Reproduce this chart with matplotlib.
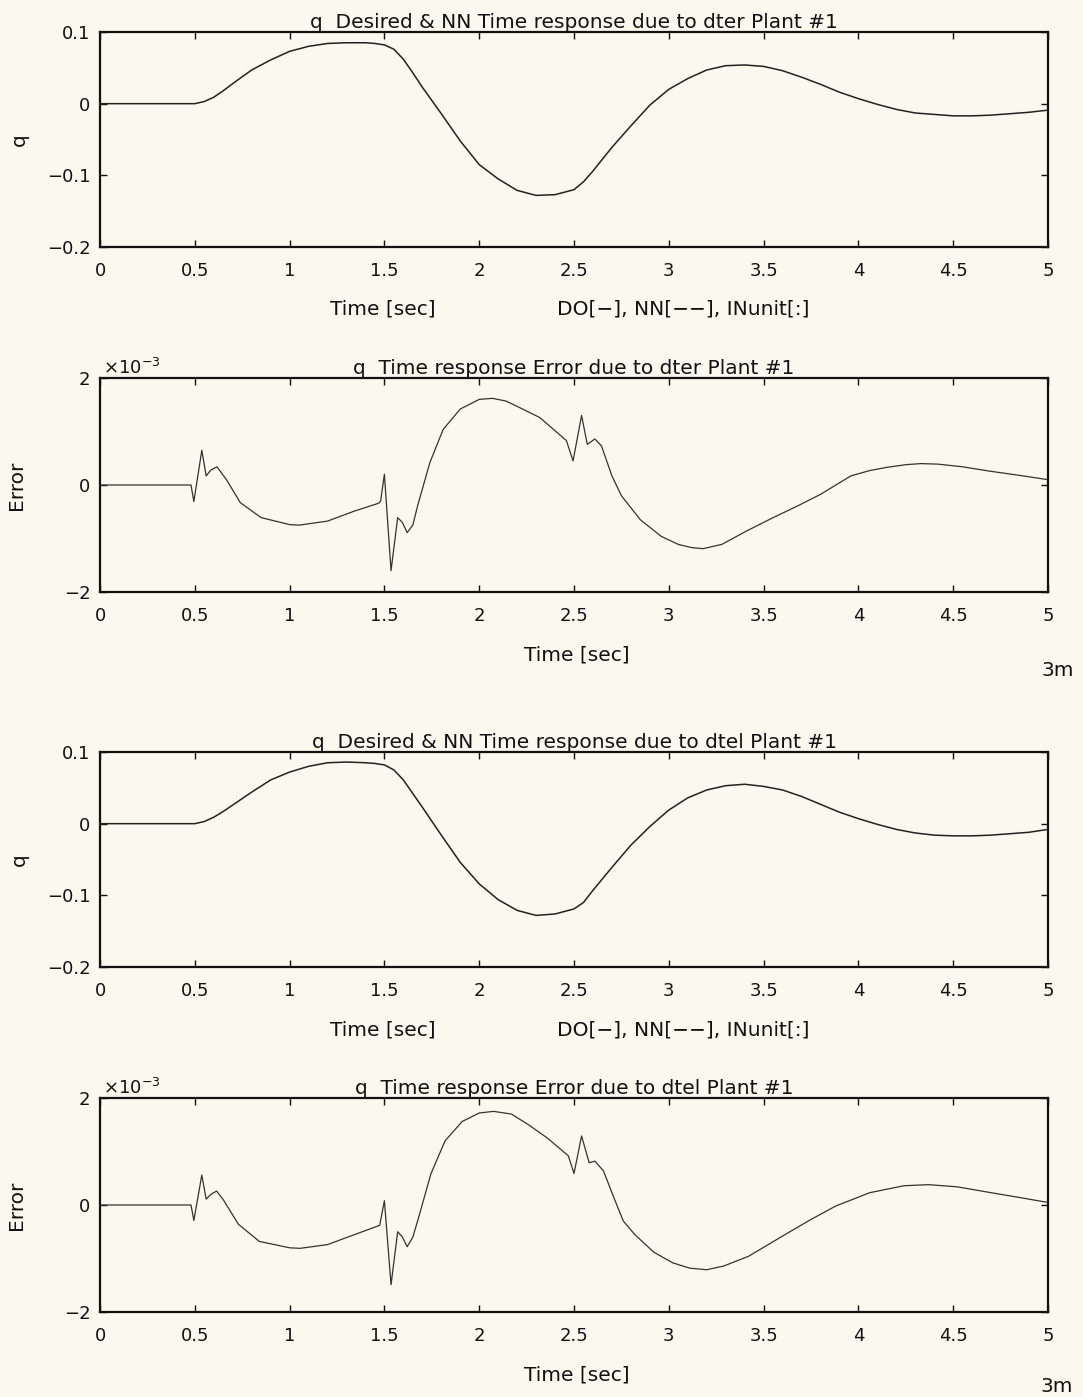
import matplotlib
matplotlib.use("Agg")
import matplotlib.pyplot as plt

# ---------------- data ----------------
t_q = [0, 0.5, 0.55, 0.6, 0.65, 0.7, 0.8, 0.9, 1.0, 1.1, 1.2, 1.3, 1.4, 1.45, 1.5, 1.55, 1.6,
       1.65, 1.7, 1.8, 1.9, 2.0, 2.1, 2.2, 2.3, 2.4, 2.5, 2.55, 2.6, 2.7, 2.8, 2.9, 3.0,
       3.1, 3.2, 3.3, 3.4, 3.5, 3.6, 3.7, 3.8, 3.9, 4.0, 4.1, 4.2, 4.3, 4.4, 4.5,
       4.6, 4.7, 4.8, 4.9, 5.0]
q_dter = [0, 0, 0.003, 0.009, 0.018, 0.028, 0.047, 0.061, 0.073, 0.080, 0.084, 0.085, 0.085,
          0.084, 0.082, 0.076, 0.062, 0.043, 0.023, -0.014, -0.052, -0.085, -0.105, -0.121, -0.128,
          -0.127, -0.120, -0.109, -0.094, -0.061, -0.031, -0.002, 0.020, 0.035, 0.047,
          0.053, 0.054, 0.052, 0.046, 0.037, 0.027, 0.016, 0.007, -0.001, -0.008,
          -0.013, -0.015, -0.017, -0.017, -0.016, -0.014, -0.012, -0.009]
q_dtel = [0, 0, 0.003, 0.009, 0.017, 0.026, 0.044, 0.061, 0.072, 0.080, 0.085, 0.086, 0.085,
          0.084, 0.082, 0.075, 0.061, 0.042, 0.023, -0.016, -0.054, -0.084, -0.106, -0.121, -0.128,
          -0.126, -0.119, -0.110, -0.093, -0.061, -0.030, -0.004, 0.019, 0.036, 0.047,
          0.053, 0.055, 0.052, 0.047, 0.038, 0.027, 0.016, 0.007, -0.001, -0.008,
          -0.013, -0.016, -0.017, -0.017, -0.016, -0.014, -0.012, -0.008]

# error values in units of 1e-3
t_e_dter = [0, 0.48, 0.495, 0.537, 0.56, 0.585, 0.617, 0.667, 0.74, 0.85, 1.0, 1.05,
            1.2, 1.34, 1.47, 1.48, 1.5, 1.535, 1.57, 1.595, 1.62, 1.65, 1.675, 1.74,
            1.81, 1.9, 2.0, 2.07, 2.14, 2.2, 2.32, 2.46, 2.495, 2.54, 2.57, 2.61, 2.645,
            2.7, 2.75, 2.85, 2.96, 3.05, 3.12, 3.18, 3.28, 3.41, 3.55, 3.68, 3.8, 3.96,
            4.06, 4.15, 4.25, 4.33, 4.42, 4.55, 4.69, 4.85, 4.98, 5.0]
e_dter = [0, 0, -0.31, 0.65, 0.17, 0.28, 0.34, 0.10, -0.33, -0.61, -0.74, -0.75,
          -0.675, -0.49, -0.34, -0.30, 0.20, -1.60, -0.61, -0.70, -0.89, -0.75, -0.39,
          0.42, 1.04, 1.42, 1.60, 1.62, 1.57, 1.47, 1.26, 0.83, 0.45, 1.30, 0.76, 0.86,
          0.73, 0.17, -0.20, -0.65, -0.96, -1.11, -1.17, -1.19, -1.11, -0.86, -0.61, -0.39,
          -0.175, 0.17, 0.27, 0.33, 0.38, 0.40, 0.39, 0.34, 0.26, 0.18, 0.11, 0.10]

t_e_dtel = [0, 0.48, 0.495, 0.537, 0.56, 0.585, 0.615, 0.65, 0.73, 0.84, 1.0, 1.055,
            1.2, 1.345, 1.475, 1.5, 1.535, 1.57, 1.595, 1.62, 1.65, 1.68, 1.745, 1.82,
            1.91, 2.0, 2.076, 2.17, 2.26, 2.36, 2.47, 2.5, 2.54, 2.58, 2.61, 2.655,
            2.71, 2.76, 2.82, 2.92, 3.02, 3.11, 3.2, 3.29, 3.42, 3.6, 3.75, 3.88,
            4.06, 4.24, 4.37, 4.52, 4.7, 4.85, 4.98, 5.0]
e_dtel = [0, 0, -0.29, 0.56, 0.11, 0.20, 0.26, 0.10, -0.36, -0.68, -0.80, -0.81,
          -0.74, -0.55, -0.38, 0.08, -1.49, -0.50, -0.60, -0.78, -0.60, -0.24, 0.58,
          1.20, 1.56, 1.72, 1.75, 1.70, 1.50, 1.25, 0.92, 0.59, 1.29, 0.79, 0.82,
          0.64, 0.14, -0.30, -0.55, -0.88, -1.08, -1.18, -1.21, -1.14, -0.96, -0.58,
          -0.27, -0.02, 0.23, 0.36, 0.38, 0.34, 0.23, 0.14, 0.06, 0.05]

x_ticks = [0, 0.5, 1, 1.5, 2, 2.5, 3, 3.5, 4, 4.5, 5]
x_ticklabels = ["0", "0.5", "1", "1.5", "2", "2.5", "3", "3.5", "4", "4.5", "5"]
q_ticks = [-0.2, -0.1, 0, 0.1]
q_ticklabels = ["\u22120.2", "\u22120.1", "0", "0.1"]
e_ticks = [-2, 0, 2]
e_ticklabels = ["\u22122", "0", "2"]

titles = ["q  Desired & NN Time response due to dter Plant #1",
          "q  Time response Error due to dter Plant #1",
          "q  Desired & NN Time response due to dtel Plant #1",
          "q  Time response Error due to dtel Plant #1"]

# ---------------- figure ----------------
BG = "#faf9ef"
W, H = 1083, 1397
fig = plt.figure(figsize=(W / 100, H / 100), dpi=100, facecolor=BG)
plt.rcParams["font.family"] = ["DejaVu Sans"]
FS = 13
FT = 14.5

def px_axes(top, bottom, left=100, right=1048):
    return fig.add_axes([left / W, 1 - bottom / H, (right - left) / W, (bottom - top) / H])

panels = [(32, 247), (378, 592), (752, 967), (1098, 1312)]
axes = [px_axes(t, b) for t, b in panels]

series = [(t_q, q_dter), (t_e_dter, e_dter), (t_q, q_dtel), (t_e_dtel, e_dtel)]

for i, ax in enumerate(axes):
    ax.set_facecolor(BG)
    xs, ys = series[i]
    if i % 2 == 0:
        ax.plot(xs, ys, color="#222222", lw=1.1)
        ax.set_ylim(-0.2, 0.1)
        ax.set_yticks(q_ticks)
        ax.set_yticklabels(q_ticklabels)
    else:
        ax.plot(xs, ys, color="#333333", lw=0.9)
        ax.set_ylim(-2, 2)
        ax.set_yticks(e_ticks)
        ax.set_yticklabels(e_ticklabels)
        ax.text(0.003, 1.0, "\u00d710$^{-3}$", transform=ax.transAxes,
                ha="left", va="bottom", fontsize=FS, color="#111111")
    ax.set_xlim(0, 5)
    ax.set_xticks(x_ticks)
    ax.set_xticklabels(x_ticklabels)
    ax.tick_params(direction="in", length=5, width=1, top=True, right=True,
                   labelsize=FS, colors="#111111")
    ax.tick_params(axis="x", pad=11)
    ax.tick_params(axis="y", pad=7)
    for s in ax.spines.values():
        s.set_linewidth(1.6)
        s.set_color("#111111")
    ax.set_title(titles[i], fontsize=FT, pad=3, color="#111111")

def ftext(x, y, s, fs=FT, **kw):
    fig.text(x / W, 1 - y / H, s, fontsize=fs, color="#111111", **kw)

# y labels
ftext(19, 140, "q", rotation=90, ha="center", va="center")
ftext(17, 485, "Error", rotation=90, ha="center", va="center")
ftext(19, 860, "q", rotation=90, ha="center", va="center")
ftext(17, 1205, "Error", rotation=90, ha="center", va="center")

# x labels
ftext(383, 309, "Time [sec]", ha="center", va="center")
ftext(683, 309, "DO[\u2212], NN[\u2212\u2212], INunit[:]", ha="center", va="center")
ftext(577, 655, "Time [sec]", ha="center", va="center")
ftext(383, 1030, "Time [sec]", ha="center", va="center")
ftext(683, 1030, "DO[\u2212], NN[\u2212\u2212], INunit[:]", ha="center", va="center")
ftext(577, 1375, "Time [sec]", ha="center", va="center")

ftext(1058, 670, "3m", ha="center", va="center")
ftext(1057, 1387, "3m", ha="center", va="center")

fig.savefig("out.png", dpi=100, facecolor=BG)
